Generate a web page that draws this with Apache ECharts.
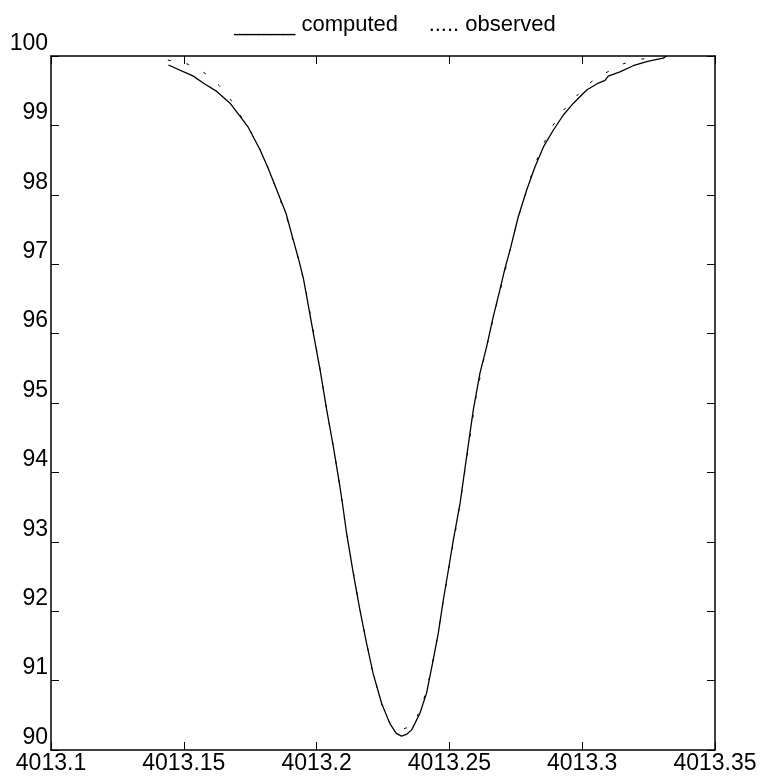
<!DOCTYPE html>
<html>
<head>
<meta charset="utf-8">
<style>
  html, body { margin: 0; padding: 0; background: #fff; }
  #chart { width: 768px; height: 778px; }
</style>
<script src="https://cdn.jsdelivr.net/npm/echarts@6/dist/echarts.min.js"></script>
</head>
<body>
<div id="chart"></div>
<script>
// Wavelength (Å) and transmission (%) of the line profile
var computedWave = [
  4013.1442, 4013.1536, 4013.1573, 4013.1624, 4013.1674, 4013.1712, 4013.1743, 4013.1787,
  4013.1818, 4013.1850, 4013.1885, 4013.1912, 4013.1931, 4013.1950, 4013.1963, 4013.1988,
  4013.2013, 4013.2038, 4013.2063, 4013.2088, 4013.2100, 4013.2113, 4013.2138, 4013.2163,
  4013.2188, 4013.2213, 4013.2245, 4013.2276, 4013.2300, 4013.2320, 4013.2340, 4013.2358,
  4013.2389, 4013.2414, 4013.2439, 4013.2458, 4013.2477, 4013.2496, 4013.2515, 4013.2540,
  4013.2565, 4013.2590, 4013.2615, 4013.2640, 4013.2665, 4013.2690, 4013.2710, 4013.2728,
  4013.2759, 4013.2791, 4013.2822, 4013.2854, 4013.2891, 4013.2929, 4013.2967, 4013.3017,
  4013.3061, 4013.3086, 4013.3098, 4013.3142, 4013.3192, 4013.3243, 4013.3268, 4013.3305,
  4013.3318
];
var computedFlux = [
  99.87, 99.71, 99.61, 99.49, 99.32, 99.13, 98.97, 98.65,
  98.38, 98.07, 97.73, 97.35, 97.09, 96.80, 96.53, 96.00,
  95.48, 94.90, 94.37, 93.79, 93.48, 93.12, 92.55, 92.02,
  91.54, 91.10, 90.67, 90.38, 90.24, 90.20, 90.23, 90.29,
  90.53, 90.82, 91.30, 91.68, 92.16, 92.59, 93.03, 93.55,
  94.23, 94.90, 95.43, 95.81, 96.24, 96.63, 96.95, 97.20,
  97.68, 98.07, 98.40, 98.69, 98.93, 99.15, 99.32, 99.51,
  99.61, 99.65, 99.71, 99.77, 99.86, 99.92, 99.94, 99.97,
  100.00
];

var observedWave = [
  4013.1440, 4013.1480, 4013.1517, 4013.1550, 4013.1580, 4013.1610, 4013.1634, 4013.1660,
  4013.1680, 4013.1712, 4013.1745, 4013.1785, 4013.1818, 4013.1850, 4013.1885, 4013.1912,
  4013.1935, 4013.1958, 4013.1985, 4013.2010, 4013.2035, 4013.2060, 4013.2085, 4013.2110,
  4013.2135, 4013.2160, 4013.2185, 4013.2210, 4013.2240, 4013.2265, 4013.2290, 4013.2320,
  4013.2350, 4013.2375, 4013.2400, 4013.2425, 4013.2450, 4013.2475, 4013.2500, 4013.2525,
  4013.2550, 4013.2575, 4013.2600, 4013.2625, 4013.2650, 4013.2675, 4013.2700, 4013.2725,
  4013.2755, 4013.2790, 4013.2820, 4013.2855, 4013.2890, 4013.2930, 4013.2973, 4013.3017,
  4013.3050, 4013.3080, 4013.3110, 4013.3142, 4013.3180, 4013.3211, 4013.3250, 4013.3290
];
var observedFlux = [
  99.94, 99.92, 99.88, 99.82, 99.75, 99.66, 99.57, 99.45,
  99.35, 99.15, 98.96, 98.67, 98.38, 98.06, 97.70, 97.33,
  97.02, 96.66, 96.10, 95.55, 94.97, 94.44, 93.86, 93.20,
  92.63, 92.09, 91.60, 91.14, 90.72, 90.45, 90.33, 90.30,
  90.33, 90.45, 90.68, 91.05, 91.52, 92.10, 92.66, 93.20,
  93.80, 94.45, 95.08, 95.55, 95.97, 96.38, 96.75, 97.15,
  97.62, 98.05, 98.42, 98.74, 99.00, 99.22, 99.40, 99.58,
  99.67, 99.74, 99.80, 99.87, 99.92, 99.95, 99.97, 99.99
];

// Axis settings
var waveMin = 4013.1, waveMax = 4013.35, waveStep = 0.05;
var fluxMin = 90, fluxMax = 100, fluxStep = 1;
var legendText = '_____ computed     ..... observed';

function pairs(xs, ys) {
  return xs.map(function (x, i) { return [x, ys[i]]; });
}

var FONT = '"Liberation Sans", Arial, sans-serif';
var FONT_SIZE = 23;

var chart = echarts.init(document.getElementById('chart'), null, { renderer: 'canvas' });

var frameLine = { show: true, onZero: false, lineStyle: { color: '#000', width: 1.5 } };
var innerTick = { show: true, inside: true, length: 8, lineStyle: { color: '#000', width: 1 } };

chart.setOption({
  animation: false,
  backgroundColor: '#fff',
  grid: { left: 51, right: 53, top: 56, bottom: 28, containLabel: false },
  graphic: [{
    type: 'text',
    x: 395,
    y: 25,
    style: {
      text: legendText,
      fill: '#000',
      font: (FONT_SIZE - 1) + 'px ' + FONT,
      align: 'center',
      verticalAlign: 'middle'
    }
  }],
  xAxis: [{
    type: 'value',
    position: 'bottom',
    min: waveMin, max: waveMax, interval: waveStep,
    axisLine: frameLine,
    axisTick: innerTick,
    splitLine: { show: false },
    axisLabel: {
      color: '#000', fontSize: FONT_SIZE, fontFamily: FONT, margin: 2,
      showMinLabel: true, showMaxLabel: true,
      formatter: function (v) { return String(parseFloat(v.toFixed(2))); }
    }
  }, {
    type: 'value',
    position: 'top',
    min: waveMin, max: waveMax, interval: waveStep,
    axisLine: frameLine,
    axisTick: innerTick,
    splitLine: { show: false },
    axisLabel: { show: false }
  }],
  yAxis: [{
    type: 'value',
    position: 'left',
    min: fluxMin, max: fluxMax, interval: fluxStep,
    axisLine: frameLine,
    axisTick: innerTick,
    splitLine: { show: false },
    axisLabel: {
      color: '#000', fontSize: FONT_SIZE, fontFamily: FONT, margin: 3,
      verticalAlign: 'bottom', padding: [0, 0, 1, 0],
      showMinLabel: true, showMaxLabel: true
    }
  }, {
    type: 'value',
    position: 'right',
    min: fluxMin, max: fluxMax, interval: fluxStep,
    axisLine: frameLine,
    axisTick: innerTick,
    splitLine: { show: false },
    axisLabel: { show: false }
  }],
  series: [{
    name: 'computed',
    type: 'line',
    xAxisIndex: 0, yAxisIndex: 0,
    data: pairs(computedWave, computedFlux),
    showSymbol: false,
    symbol: 'none',
    lineStyle: { color: '#000', width: 1.3 },
    z: 3
  }, {
    name: 'observed',
    type: 'line',
    xAxisIndex: 0, yAxisIndex: 0,
    data: pairs(observedWave, observedFlux),
    showSymbol: false,
    symbol: 'none',
    lineStyle: { color: '#000', width: 1, type: [3, 16] },
    z: 2
  }]
});
</script>
</body>
</html>
